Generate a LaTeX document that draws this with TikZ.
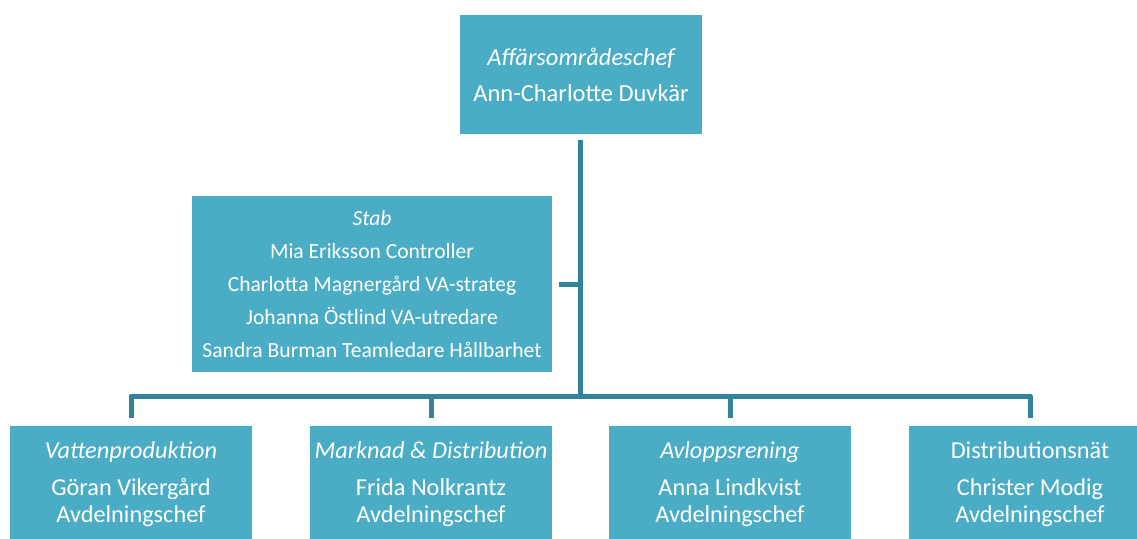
\documentclass[tikz,border=0pt]{standalone}
\usepackage{fontspec}
\setmainfont{Carlito}
\usepackage{xcolor}
\definecolor{boxblue}{HTML}{4BACC6}
\definecolor{linkblue}{HTML}{31849B}
\usetikzlibrary{calc}

\begin{document}
\begin{tikzpicture}[x=1pt,y=-1pt,
    unit/.style={fill=boxblue,text=white,inner sep=0pt,align=center},
    chefbox/.style={unit,minimum width=242pt,minimum height=119pt,font=\fontsize{24.5}{36}\selectfont},
    stabbox/.style={unit,minimum width=360pt,minimum height=176pt,font=\fontsize{21.6}{33}\selectfont},
    deptbox/.style={unit,minimum width=242pt,minimum height=116pt,font=\fontsize{24.3}{27}\selectfont},
    conn/.style={draw=linkblue,line width=5pt,line join=round}]
    \clip (0,0) rectangle (1137,538);
    \fill[white] (0,0) rectangle (1137,538);
    % boxes
    \node[chefbox] (chef) at (581,74.5) {\itshape Affärsområdeschef\\Ann-Charlotte Duvkär};
    \node[stabbox] (stab) at (372,284) {\itshape Stab\\Mia Eriksson Controller\\Charlotta Magnergård VA-strateg\\Johanna Östlind VA-utredare\\Sandra Burman Teamledare Hållbarhet};
    \node[deptbox] (vp) at (131,484) {\itshape Vattenproduktion\\[10pt]Göran Vikergård\\Avdelningschef};
    \node[deptbox] (md) at (431,484) {\itshape Marknad \& Distribution\\[10pt]Frida Nolkrantz\\Avdelningschef};
    \node[deptbox] (av) at (730,484) {\itshape Avloppsrening\\[10pt]Anna Lindkvist\\Avdelningschef};
    \node[deptbox] (dn) at (1030,484) {Distributionsnät\\[10pt]Christer Modig\\Avdelningschef};
    \coordinate (bus) at (580,396);
    % connectors
    \draw[conn] ([yshift=-6pt]chef.south -| bus) -- (bus);
    \draw[conn] ([xshift=7pt]stab.east) -- (stab.east -| bus);
    \draw[conn] ([yshift=8pt]vp.north) |- (bus) -| ([yshift=8pt]dn.north);
    \draw[conn] ([yshift=8pt]md.north) -- (md.north |- bus);
    \draw[conn] ([yshift=8pt]av.north) -- (av.north |- bus);
\end{tikzpicture}
\end{document}
